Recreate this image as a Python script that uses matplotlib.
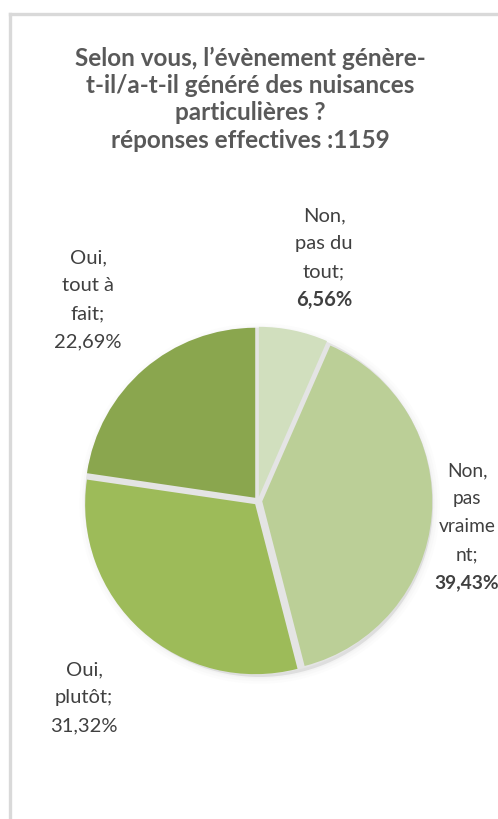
import matplotlib
matplotlib.use("Agg")
import matplotlib.pyplot as plt
from matplotlib.patches import Circle
from matplotlib.lines import Line2D

# ---- data ----
categories = ["Non, pas du tout", "Non, pas vraiment", "Oui, plutôt", "Oui, tout à fait"]
values = [6.56, 39.43, 31.32, 22.69]
label_lines = [["Non,", "pas du", "tout;"],
               ["Non,", "pas", "vraime", "nt;"],
               ["Oui,", "plutôt;"],
               ["Oui,", "tout à", "fait;"]]
bold_pct = [True, True, False, False]
colors = ["#D1DFBE", "#BBCF97", "#9DBB59", "#8AA64E"]
title = "Selon vous, l’évènement génère-\nt-il/a-t-il généré des nuisances\nparticulières ?\nréponses effectives :1159"

W, H = 498, 820
fig = plt.figure(figsize=(W / 100, H / 100), dpi=100)
fig.patch.set_facecolor("white")

# pie geometry (pixels)
cx, cy_top, R = 258, 502, 170
cy = H - cy_top
ax = fig.add_axes([0, 0, 1, 1])
ax.axis("off")

# soft shadow / gap fill behind the pie
for r, a in [(1.06, 0.05), (1.045, 0.07), (1.03, 0.10), (1.02, 0.6)]:
    ax.add_patch(Circle((0.01, -0.015), r, color="#D0D0D0", alpha=a, lw=0, zorder=0))
ax.add_patch(Circle((0, 0), 1.02, color="#E4E4E4", lw=0, zorder=0.5))

ax.pie(values, colors=colors, startangle=90, counterclock=False,
       explode=[0.025] * len(values), radius=1.0,
       wedgeprops=dict(edgecolor="none", linewidth=0, zorder=1))
ax.set_xlim(-cx / R, (W - cx) / R)
ax.set_ylim(-cy / R, (H - cy) / R)
ax.set_aspect("auto")
ax.set_position([0, 0, 1, 1])

# frame lines
fig.add_artist(Line2D([9.5 / W, 1], [1 - 14.5 / H, 1 - 14.5 / H], color="#D9D9D9", lw=2.4, transform=fig.transFigure))
fig.add_artist(Line2D([9.5 / W, 9.5 / W], [0, 1 - 14.5 / H], color="#D9D9D9", lw=2.4, transform=fig.transFigure))

FONT = "Lato"
# title
tl = title.split("\n")
for i, line in enumerate(tl):
    fig.text(250 / W, 1 - (58 + i * 27.5) / H, line, ha="center", va="center",
             fontsize=17.5, fontweight="bold", color="#595959", family=FONT)

# data labels (center positions in pixels)
label_pos = [(324, 258), (467, 527), (84, 698), (88, 300)]
label_size = [14.5, 13.8, 14.5, 14.5]
spacing = 28
for lines, v, b, (px, py), fs in zip(label_lines, values, bold_pct, label_pos, label_size):
    all_lines = lines + [f"{v:.2f}%".replace(".", ",")]
    n = len(all_lines)
    for i, line in enumerate(all_lines):
        y = py + (i - (n - 1) / 2) * spacing
        bold = b and i == n - 1
        fig.text(px / W, 1 - y / H, line, ha="center", va="center", fontsize=fs,
                 fontweight="bold" if bold else "normal", color="#404040", family=FONT)

fig.savefig("out.png", dpi=100)
